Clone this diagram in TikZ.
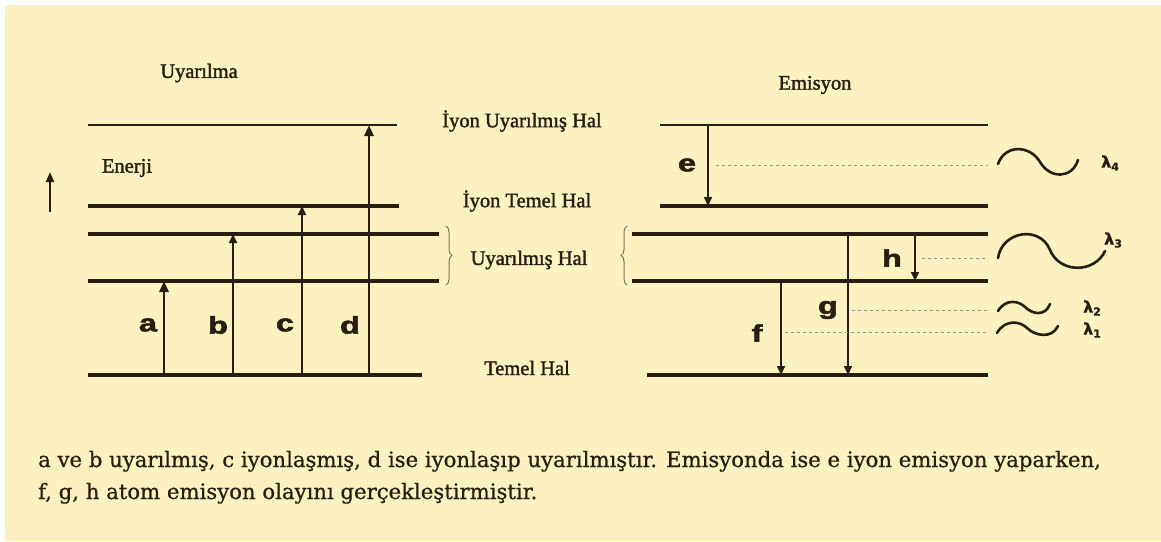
\documentclass[tikz,border=0pt]{standalone}
\usepackage{fontspec}
\setmainfont{Liberation Serif}
\newfontfamily\hfont[FakeBold=1.6]{Liberation Serif}
\newfontfamily\capfont[FakeBold=0.6]{DejaVu Serif}
\newfontfamily\lblfont[FakeBold=2]{Liberation Sans}
\newfontfamily\symfont[FakeBold=1]{DejaVu Sans}
\usetikzlibrary{arrows.meta,decorations.pathreplacing}
\definecolor{bg}{RGB}{252,241,192}
\definecolor{ink}{RGB}{38,30,15}
\definecolor{dotc}{RGB}{160,150,125}
\definecolor{bracec}{RGB}{125,115,95}
\tikzset{
 level/.style={draw=ink, line width=3.6pt},
 toplevel/.style={draw=ink, line width=2.4pt},
 baselevel/.style={draw=ink, line width=4pt},
 upthin/.style={draw=ink, line width=1.8pt, -{Triangle[length=9pt,width=8pt]}},
 upthick/.style={draw=ink, line width=2.8pt, -{Triangle[length=11pt,width=9pt]}},
 down/.style={draw=ink, line width=1.6pt, -{Triangle[length=9pt,width=8pt]}},
 photon/.style={draw=dotc, line width=1pt, dash pattern=on 3pt off 3pt},
 wave/.style={draw=ink, line width=2.6pt, line cap=round},
 tlabel/.style={font=\hfont\fontsize{20.5}{22}\selectfont, text=ink, inner sep=0pt},
 letter/.style={font=\lblfont\bfseries\fontsize{24}{26}\selectfont, text=ink, inner sep=0pt},
 lam/.style={font=\symfont\bfseries\fontsize{16}{17}\selectfont, text=ink, inner sep=0pt},
 capt/.style={font=\capfont\fontsize{21.2}{24}\selectfont, text=ink, inner sep=0pt, anchor=base west},
 bracestyle/.style={draw=bracec, line width=1pt, decorate, decoration={brace, amplitude=6pt}},
}
\newcommand{\wl}[1]{\scalebox{1.35}[1]{#1}}
\newcommand{\lm}[1]{λ\raisebox{-3pt}{\fontsize{11}{11}\selectfont #1}}
\begin{document}
\begin{tikzpicture}[x=1pt,y=-1pt]
\useasboundingbox (0,0) rectangle (1161,541);
\fill[white] (0,0) rectangle (1161,541);
\fill[bg] (5,5) rectangle (1161,541);

% ---------- left: excitation ----------
\node[tlabel] (uyar) at (199,73) {Uyarılma};
\node[tlabel] (enerji) at (127,168) {Enerji};
\coordinate (en0) at (50,212);
\coordinate (en1) at (50,172);
\draw[draw=ink, line width=2.4pt, -{Triangle[length=10pt,width=8pt]}] (en0) -- (en1);

\coordinate (L4a) at (88,125);  \coordinate (L4b) at (397,125);
\coordinate (L3a) at (88,206);  \coordinate (L3b) at (399,206);
\coordinate (L2a) at (88,234);  \coordinate (L2b) at (439,234);
\coordinate (L1a) at (88,281);  \coordinate (L1b) at (439,281);
\coordinate (L0a) at (88,375);  \coordinate (L0b) at (422,375);
\draw[toplevel] (L4a) -- (L4b);
\draw[level] (L3a) -- (L3b);
\draw[level] (L2a) -- (L2b);
\draw[level] (L1a) -- (L1b);
\draw[baselevel] (L0a) -- (L0b);

\coordinate (a0) at (164,375); \coordinate (a1) at (164,281);
\coordinate (b0) at (233,375); \coordinate (b1) at (233,234);
\coordinate (c0) at (302,375); \coordinate (c1) at (302,206);
\coordinate (d0) at (369,375); \coordinate (d1) at (369,125);
\draw[upthick] (a0) -- (a1);
\draw[upthin] (b0) -- (b1);
\draw[upthin] (c0) -- (c1);
\draw[upthick] (d0) -- (d1);
\node[letter] (la) at (148,325) {\wl{a}};
\node[letter] (lb) at (218,325) {\wl{b}};
\node[letter] (lc) at (285,325) {\wl{c}};
\node[letter] (ld) at (350,325) {\wl{d}};

% ---------- middle labels ----------
\node[tlabel] (t4) at (522,121) {İyon Uyarılmış Hal};
\node[tlabel] (t3) at (527,201) {İyon Temel Hal};
\node[tlabel] (t2) at (529,260) {Uyarılmış Hal};
\node[tlabel] (t0) at (527,368) {Temel Hal};
\coordinate (brL1) at (446,226); \coordinate (brL2) at (446,285);
\draw[bracestyle] (brL1) -- (brL2);
\coordinate (brR1) at (627,285); \coordinate (brR2) at (627,226);
\draw[bracestyle] (brR1) -- (brR2);

% ---------- right: emission ----------
\node[tlabel] (emis) at (815,85) {Emisyon};
\coordinate (R4a) at (660,125);  \coordinate (R4b) at (988,125);
\coordinate (R3a) at (660,206);  \coordinate (R3b) at (988,206);
\coordinate (R2a) at (632,234);  \coordinate (R2b) at (988,234);
\coordinate (R1a) at (632,281);  \coordinate (R1b) at (988,281);
\coordinate (R0a) at (647,375);  \coordinate (R0b) at (988,375);
\draw[toplevel] (R4a) -- (R4b);
\draw[level] (R3a) -- (R3b);
\draw[level] (R2a) -- (R2b);
\draw[level] (R1a) -- (R1b);
\draw[baselevel] (R0a) -- (R0b);

\coordinate (e0) at (708,125); \coordinate (e1) at (708,206);
\coordinate (h0) at (915,234); \coordinate (h1) at (915,281);
\coordinate (g0) at (848,234); \coordinate (g1) at (848,375);
\coordinate (f0) at (781,281); \coordinate (f1) at (781,375);
\draw[down] (e0) -- (e1);
\draw[down] (h0) -- (h1);
\draw[down] (g0) -- (g1);
\draw[down] (f0) -- (f1);
\node[letter] (le) at (687,165) {\wl{e}};
\node[letter] (lh) at (892,258) {\wl{h}};
\node[letter] (lg) at (828,310) {\wl{g}};
\node[letter] (lf) at (757,333) {\wl{f}};

\coordinate (pe0) at (716,165); \coordinate (pe1) at (988,165);
\coordinate (ph0) at (922,258); \coordinate (ph1) at (988,258);
\coordinate (pg0) at (852,310); \coordinate (pg1) at (988,310);
\coordinate (pf0) at (785,332); \coordinate (pf1) at (988,332);
\draw[photon] (pe0) -- (pe1);
\draw[photon] (ph0) -- (ph1);
\draw[photon] (pg0) -- (pg1);
\draw[photon] (pf0) -- (pf1);

% waves
\draw[wave] (998,164) .. controls (1005,144) and (1030,145) .. (1040,162) .. controls (1050,179) and (1072,179) .. (1078,160);
\draw[wave] (998,258) .. controls (1002,231) and (1040,225) .. (1050,250) .. controls (1060,274) and (1095,273) .. (1105,251);
\draw[wave] (998,311) .. controls (1006,298) and (1019,301) .. (1025,307) .. controls (1032,314) and (1045,317) .. (1050,304);
\draw[wave] (997,333) .. controls (1005,319) and (1020,321) .. (1027,328) .. controls (1035,336) and (1052,339) .. (1058,326);
\node[lam] (l4) at (1110,163) {\lm{4}};
\node[lam] (l3) at (1113,240) {\lm{3}};
\node[lam] (l2) at (1092,308) {\lm{2}};
\node[lam] (l1) at (1092,330) {\lm{1}};

% ---------- caption ----------
\node[capt] (cap1) at (38,467) {a ve b uyarılmış, c iyonlaşmış, d ise iyonlaşıp uyarılmıştır. Emisyonda ise e iyon emisyon yaparken,};
\node[capt] (cap2) at (38,499) {f, g, h atom emisyon olayını gerçekleştirmiştir.};
\end{tikzpicture}
\end{document}
